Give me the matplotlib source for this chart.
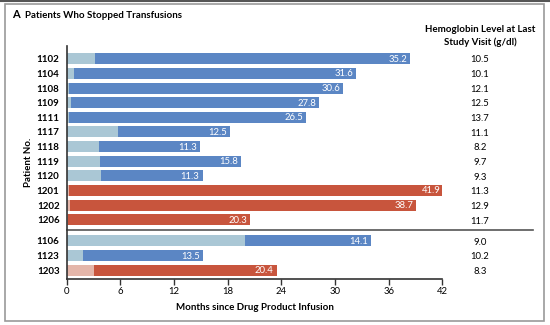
import matplotlib
matplotlib.use("Agg")
import matplotlib.pyplot as plt
from matplotlib.patches import Rectangle
from matplotlib.lines import Line2D

plt.rcParams['font.family'] = ['Lato', 'DejaVu Sans']

# Patients in display order (top to bottom)
patients = ["1102", "1104", "1108", "1109", "1111", "1117", "1118", "1119", "1120",
            "1201", "1202", "1206", "1106", "1123", "1203"]
# Months from infusion until last transfusion
before_months = [3.2, 0.8, 0.3, 0.45, 0.3, 5.8, 3.6, 3.7, 3.9,
                 0.25, 0.4, 0.2, 19.9, 1.8, 3.1]
# Months free of transfusions (labelled values)
free_months = [35.2, 31.6, 30.6, 27.8, 26.5, 12.5, 11.3, 15.8, 11.3,
               41.9, 38.7, 20.3, 14.1, 13.5, 20.4]
# Study group: "1" = first study (blue), "2" = second study (red)
group = ["1", "1", "1", "1", "1", "1", "1", "1", "1",
         "2", "2", "2", "1", "1", "2"]
hemoglobin = ["10.5", "10.1", "12.1", "12.5", "13.7", "11.1", "8.2", "9.7", "9.3",
              "11.3", "12.9", "11.7", "9.0", "10.2", "8.3"]
x_ticks = [0, 6, 12, 18, 24, 30, 36, 42]

dark = {"1": "#5b86c4", "2": "#c8553d"}
light = {"1": "#aac7d5", "2": "#e4b6aa"}

W, H = 550, 325
fig = plt.figure(figsize=(W / 100, H / 100), dpi=100)

# panel frame
fig.add_artist(Rectangle((4.5 / W, 1 - 320.5 / H), (543.5 - 4.5) / W, (320.5 - 3.5) / H,
                         transform=fig.transFigure, fill=False, edgecolor="#9a9a9a", lw=1.2))
fig.add_artist(Line2D([0, 1], [1 - 1 / H, 1 - 1 / H], transform=fig.transFigure,
                      color="#555555", lw=1.5))

ax_left, ax_right = 66.5, 442.4
ax_top, ax_bot = 46, 279
ax = fig.add_axes([ax_left / W, 1 - ax_bot / H, (ax_right - ax_left) / W, (ax_bot - ax_top) / H])

# row positions: a gap separates the last three patients
ypos = [i if i < 12 else i + 0.44 for i in range(len(patients))]
bh = 0.75
for y, b, f, g in zip(ypos, before_months, free_months, group):
    ax.barh(y, b, left=0, height=bh, color=light[g], edgecolor="none")
    ax.barh(y, f, left=b, height=bh, color=dark[g], edgecolor="none")
    ax.text(b + f - 0.35, y + 0.03, f"{f:.1f}", color="white", fontsize=6.8,
            ha="right", va="center")

ax.set_xlim(0, 42)
ax.set_ylim(15.04, -0.87)
ax.set_yticks(ypos)
ax.set_yticklabels(patients, fontsize=7, fontweight="bold")
ax.set_xticks(x_ticks)
ax.set_xticklabels([str(t) for t in x_ticks], fontsize=6.8)
ax.tick_params(axis="y", length=0, pad=5)
ax.tick_params(axis="x", length=4, width=1, color="#333333", pad=2)
for s in ["top", "right"]:
    ax.spines[s].set_visible(False)
for s in ["left", "bottom"]:
    ax.spines[s].set_color("#333333")
    ax.spines[s].set_linewidth(1.2)

ax.set_xlabel("Months since Drug Product Infusion", fontsize=7, fontweight="bold", labelpad=5)
ax.set_ylabel("Patient No.", fontsize=7, fontweight="bold", labelpad=2.5)

# separator between the two groups of rows, running under the hemoglobin column
sep_y = 11.72
ax.plot([0, (533 - ax_left) / (ax_right - ax_left) * 42], [sep_y, sep_y],
        color="#555555", lw=1.2, clip_on=False)

# hemoglobin column
hb_x = (480 - ax_left) / (ax_right - ax_left) * 42
for y, hb in zip(ypos, hemoglobin):
    ax.text(hb_x, y + 0.08, hb, fontsize=6.8, ha="center", va="center", clip_on=False)
fig.text(480 / W, 1 - 29 / H, "Hemoglobin Level at Last", fontsize=7, fontweight="bold",
         ha="center", va="center")
fig.text(480 / W, 1 - 42 / H, "Study Visit (g/dl)", fontsize=7, fontweight="bold",
         ha="center", va="center")

fig.text(12 / W, 1 - 15 / H, "A", fontsize=8, fontweight="bold", ha="left", va="center")
fig.text(25 / W, 1 - 15 / H, "Patients Who Stopped Transfusions", fontsize=7,
         fontweight="bold", ha="left", va="center")

fig.savefig("out.png", dpi=100)
